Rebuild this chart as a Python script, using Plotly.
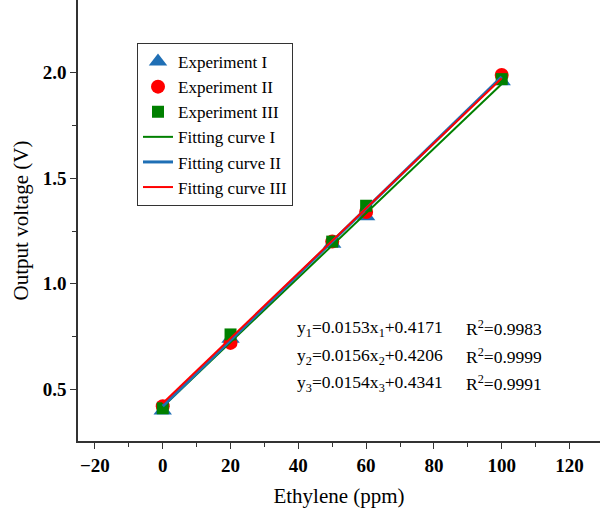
import plotly.graph_objects as go

conc = [0, 20, 50, 60, 100]
exp1 = [0.40, 0.74, 1.19, 1.32, 1.96]
exp2 = [0.42, 0.72, 1.20, 1.34, 1.99]
exp3 = [0.41, 0.76, 1.20, 1.37, 1.97]

fit_x = [0, 100]
slopes = [0.0153, 0.0156, 0.0154]
intercepts = [0.4171, 0.4206, 0.4341]
r2 = [0.9983, 0.9999, 0.9991]

blue = "#1f6fb5"
red = "#ff0000"
green = "#008000"
font_fam = "Liberation Serif, Times New Roman, serif"

fig = go.Figure()
fig.add_trace(go.Scatter(x=conc, y=exp1, mode="markers", name="Experiment I",
                         marker=dict(symbol="triangle-up", size=16, color=blue)))
fig.add_trace(go.Scatter(x=conc, y=exp2, mode="markers", name="Experiment II",
                         marker=dict(symbol="circle", size=14, color=red)))
fig.add_trace(go.Scatter(x=conc, y=exp3, mode="markers", name="Experiment III",
                         marker=dict(symbol="square", size=12, color=green)))
fit_colors = [green, blue, red]
fit_widths = [2, 3, 2]
fit_names = ["Fitting curve I", "Fitting curve II", "Fitting curve III"]
for i in range(3):
    fy = [slopes[i] * x + intercepts[i] for x in fit_x]
    fig.add_trace(go.Scatter(x=fit_x, y=fy, mode="lines", name=fit_names[i],
                             line=dict(color=fit_colors[i], width=fit_widths[i])))

ann_y = [328, 356, 383]
for i in range(3):
    n = i + 1
    fig.add_annotation(xref="paper", yref="paper", x=(295 - 78) / 522, y=1 - ann_y[i] / 441,
                       xanchor="left", yanchor="middle", showarrow=False,
                       text=f"y<sub>{n}</sub>=0.{str(slopes[i])[2:]}x<sub>{n}</sub>+{intercepts[i]:.4f}",
                       font=dict(family=font_fam, size=17.5, color="black"))
    fig.add_annotation(xref="paper", yref="paper", x=(464 - 78) / 522, y=1 - ann_y[i] / 441,
                       xanchor="left", yanchor="middle", showarrow=False,
                       text=f"R<sup>2</sup>={r2[i]:.4f}",
                       font=dict(family=font_fam, size=17.5, color="black"))

fig.update_layout(
    width=600, height=513,
    margin=dict(l=78, r=0, t=0, b=72),
    paper_bgcolor="white", plot_bgcolor="white",
    font=dict(family=font_fam, color="black"),
    showlegend=True,
    legend=dict(x=(137 - 78) / 522, y=1 - 43 / 441, xanchor="left", yanchor="top",
                bordercolor="#333333", borderwidth=1, bgcolor="white",
                font=dict(family=font_fam, size=17, color="black"),
                tracegroupgap=0),
    xaxis=dict(range=[-25, 129], tickmode="array", tickvals=[-20, 0, 20, 40, 60, 80, 100, 120],
               ticks="outside", ticklen=6, tickwidth=1, tickcolor="#333",
               minor=dict(tickvals=[-10, 10, 30, 50, 70, 90, 110], ticks="outside", ticklen=4, tickcolor="#333"),
               showgrid=False, zeroline=False, showline=True, linecolor="#333", linewidth=1.5,
               tickfont=dict(family=font_fam, size=19, weight="bold"),
               title=dict(text="Ethylene (ppm)", font=dict(family=font_fam, size=21), standoff=14)),
    yaxis=dict(range=[0.255, 2.345], tickmode="array", tickvals=[0.5, 1.0, 1.5, 2.0],
               ticktext=["0.5", "1.0", "1.5", "2.0"],
               ticks="outside", ticklen=6, tickwidth=1, tickcolor="#333",
               minor=dict(tickvals=[0.75, 1.25, 1.75], ticks="outside", ticklen=4, tickcolor="#333"),
               showgrid=False, zeroline=False, showline=True, linecolor="#333", linewidth=1.5,
               tickfont=dict(family=font_fam, size=19, weight="bold"),
               title=dict(text="Output voltage (V)", font=dict(family=font_fam, size=21), standoff=8)),
)

fig.write_html("out.html")
